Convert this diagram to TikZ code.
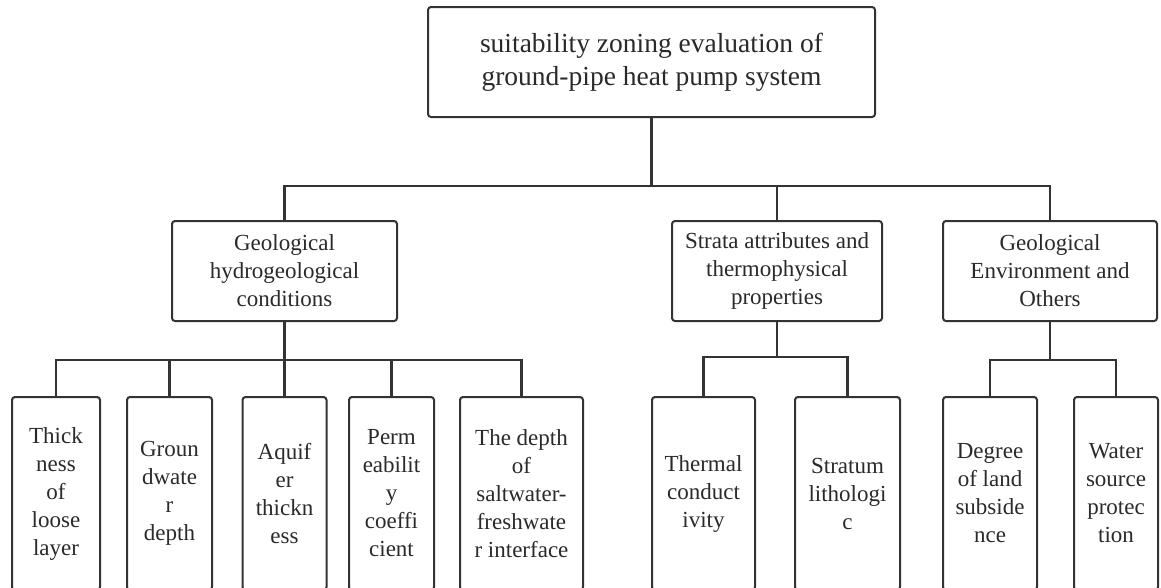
\documentclass[tikz,border=0pt]{standalone}
\usepackage{fontspec}
\setmainfont{Liberation Serif}
\definecolor{linec}{HTML}{333333}
\definecolor{textc}{HTML}{2A2A2A}
\begin{document}
\begin{tikzpicture}[x=1pt,y=-1pt,
  box/.style={draw=linec, line width=2pt, rounded corners=3pt, align=center,
    text=textc, inner sep=0pt, font=\fontsize{23}{28}\selectfont},
  topbox/.style={box, minimum width=447pt, minimum height=110pt, font=\fontsize{27.5}{33}\selectfont},
  midbox/.style={box, minimum height=100pt},
  leafbox/.style={box, minimum height=193pt},
  conn/.style={draw=linec, line width=2.2pt}]
\useasboundingbox (0,0) rectangle (1161,587);
\clip (0,0) rectangle (1161,587);
\fill[white] (0,0) rectangle (1161,587);
% top
\node[topbox] (top) at (651.5,62) {suitability zoning evaluation of\\ground-pipe heat pump system};
% middle
\node[midbox, minimum width=225pt] (g) at (284.5,271) {Geological\\hydrogeological\\conditions};
\node[midbox, minimum width=210pt] (s) at (777,271) {Strata attributes and\\thermophysical\\properties};
\node[midbox, minimum width=214pt] (e) at (1050,271) {Geological\\Environment and\\Others};
% leaves
\node[leafbox, minimum width=88pt] (g1) at (56,493.5) {Thick\\ness\\of\\loose\\layer};
\node[leafbox, minimum width=85pt] (g2) at (169.5,493.5) {Groun\\dwate\\r\\depth};
\node[leafbox, minimum width=84pt] (g3) at (284.5,493.5) {Aquif\\er\\thickn\\ess};
\node[leafbox, minimum width=85pt] (g4) at (391.5,493.5) {Perm\\eabilit\\y\\coeffi\\cient};
\node[leafbox, minimum width=123pt] (g5) at (521.5,493.5) {The depth\\of\\saltwater-\\freshwate\\r interface};
\node[leafbox, minimum width=103pt] (s1) at (703.5,493.5) {Thermal\\conduct\\ivity};
\node[leafbox, minimum width=105pt] (s2) at (847.5,493.5) {Stratum\\lithologi\\c};
\node[leafbox, minimum width=94pt] (e1) at (990,493.5) {Degree\\of land\\subside\\nce};
\node[leafbox, minimum width=84pt] (e2) at (1116,493.5) {Water\\source\\protec\\tion};
% bus levels
\coordinate (b0) at (0,186);
\coordinate (bg) at (0,360);
\coordinate (bs) at (0,357);
\coordinate (be) at (0,360);
% connectors
\draw[conn] (top.south) -- (top.south|-b0) -| (g.north);
\draw[conn] (top.south|-b0) -| (s.north);
\draw[conn] (top.south|-b0) -| (e.north);
\foreach \c in {g1,g2,g3,g4,g5}{\draw[conn] (g.south) -- (g.south|-bg) -| (\c.north);}
\foreach \c in {s1,s2}{\draw[conn] (s.south) -- (s.south|-bs) -| (\c.north);}
\foreach \c in {e1,e2}{\draw[conn] (e.south) -- (e.south|-be) -| (\c.north);}
\end{tikzpicture}
\end{document}
